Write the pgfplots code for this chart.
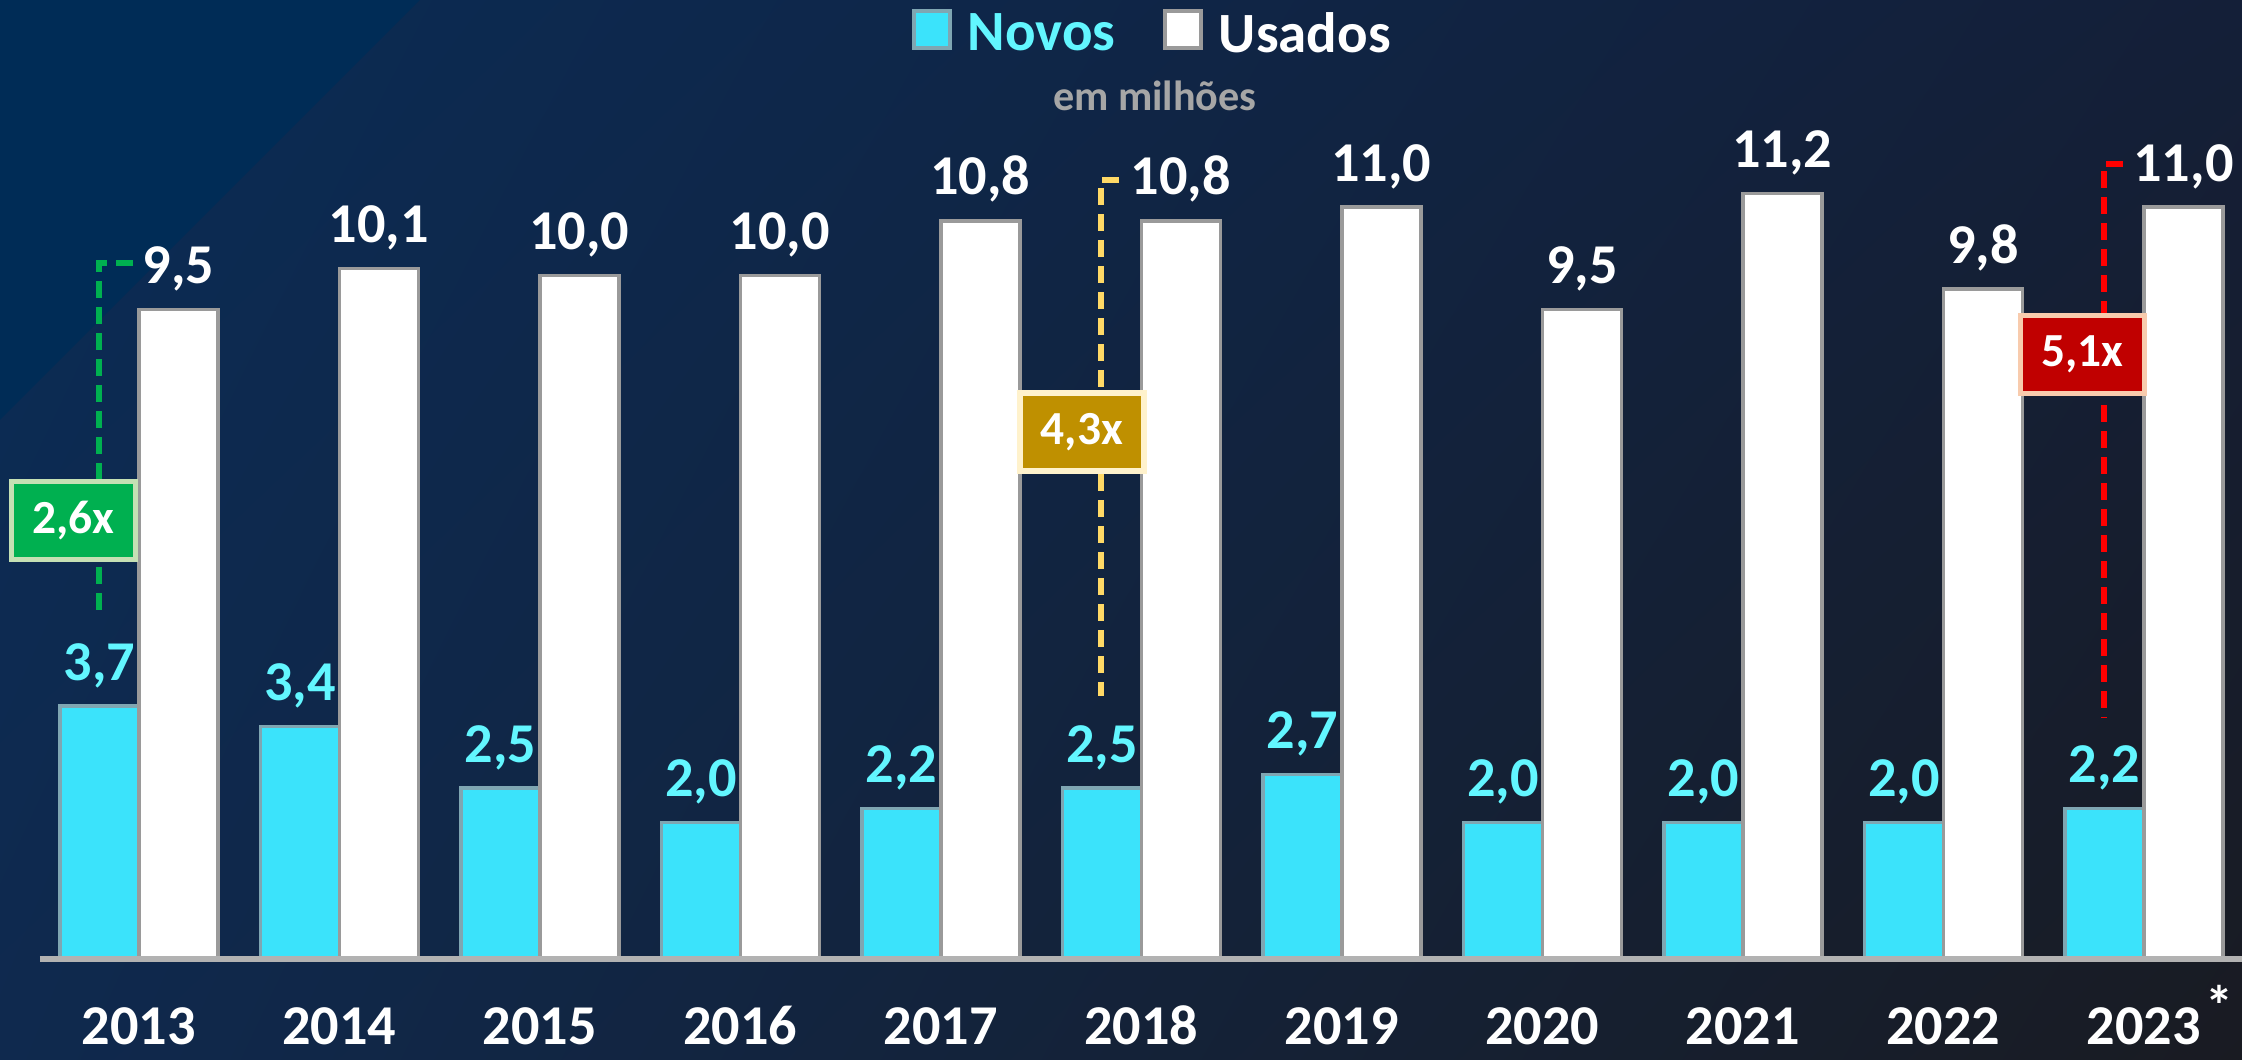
\documentclass[border=0pt]{standalone}
\usepackage{pgfplots}
\pgfplotsset{compat=1.18}
\usetikzlibrary{shadings}
\usepackage{fontspec}
\setmainfont{Carlito}

\definecolor{bgUL}{HTML}{0A2C56}
\definecolor{bgUR}{HTML}{141F38}
\definecolor{bgLL}{HTML}{0F294E}
\definecolor{bgLR}{HTML}{191B22}
\definecolor{bgTri}{HTML}{002C56}
\definecolor{novo}{HTML}{3BE3FB}
\definecolor{novoedge}{HTML}{7FA6B2}
\definecolor{novotxt}{HTML}{62F6FF}
\definecolor{usadoedge}{HTML}{9A9A9A}
\definecolor{gline}{HTML}{00B050}
\definecolor{gborder}{HTML}{C5E0B4}
\definecolor{yline}{HTML}{FFD966}
\definecolor{yfill}{HTML}{BF9000}
\definecolor{yborder}{HTML}{FFF2CC}
\definecolor{rline}{HTML}{FF0000}
\definecolor{rfill}{HTML}{C00000}
\definecolor{rborder}{HTML}{F8CBAD}

\pgfplotsset{
  sqlegend/.style={legend image code/.code={\draw[##1] (0cm,-0.13cm) rectangle (0.36cm,0.24cm);}},
  vallabel/.style={
    nodes near coords={\pgfmathprintnumber[fixed,fixed zerofill,precision=1,use comma,assume math mode=true]{\pgfplotspointmeta}},
    every node near coord/.append style={anchor=base, yshift=0.26cm, text=#1,
        font=\fontsize{16}{16}\selectfont\bfseries}},
}

\begin{document}
\begin{tikzpicture}
% background
\shade[upper left=bgUL, upper right=bgUR, lower left=bgLL, lower right=bgLR]
  (0,0) rectangle (22.42,10.6);
\fill[bgTri] (0,10.6) -- (4.2,10.6) -- (0,6.4) -- cycle;

\begin{axis}[
    name=ax, at={(0,0)}, anchor=south west,
    scale only axis, width=22.42cm, height=10.6cm,
    xmin=-0.693, xmax=10.489, ymin=-1.478, ymax=14.031,
    axis line style={draw=none}, tick style={draw=none},
    major tick length=0pt,
    ytick=\empty,
    xtick={0,...,10},
    xticklabels={2013,2014,2015,2016,2017,2018,2019,2020,2021,2022,{2023\rlap{\hspace{0.08em}\raisebox{0.34em}{*}}}},
    xticklabel style={anchor=base, yshift=0.15cm, text=white,
        font=\fontsize{16}{16}\selectfont\bfseries},
    ybar=0pt, bar width=0.79cm,
    clip=false,
    legend style={at={(axis cs:5.05,13.54)}, anchor=center,
        draw=none, fill=none, legend columns=-1,
        font=\fontsize{16.2}{16.2}\selectfont\bfseries,
        nodes={inner sep=0pt},
        /tikz/every odd column/.append style={column sep=0.16cm},
        /tikz/every even column/.append style={column sep=0.48cm}},
]

\addplot[fill=novo, draw=novoedge, line width=1pt, sqlegend, vallabel=novotxt]
coordinates {
  (0,3.7) (1,3.4) (2,2.5) (3,2.0) (4,2.2) (5,2.5)
  (6,2.7) (7,2.0) (8,2.0) (9,2.0) (10,2.2)
};
\addlegendentry{\textcolor{novotxt}{Novos}}

\addplot[fill=white, draw=usadoedge, line width=1pt, sqlegend, vallabel=white]
coordinates {
  (0,9.5) (1,10.1) (2,10.0) (3,10.0) (4,10.8) (5,10.8)
  (6,11.0) (7,9.5) (8,11.2) (9,9.8) (10,11.0)
};
\addlegendentry{\textcolor{white}{Usados}}

% base line
\draw[color=gray!60!white, line width=1.5pt] (axis cs:-0.494,0) -- (axis cs:10.489,0);

% subtitle
\node[anchor=base, text=gray!70!white, font=\fontsize{12}{12}\selectfont\bfseries]
  at (axis cs:5.067,12.42) {em milhões};

% ratio markers
\tikzset{
  ratio/.style={dash pattern=on 0.17cm off 0.09cm, line width=0.06cm},
  rbox/.style={minimum width=1.24cm, minimum height=0.78cm, inner sep=0pt,
      line width=1.5pt, text=white, font=\fontsize{13.5}{13.5}\selectfont\bfseries},
}
\draw[ratio, gline] (axis cs:-0.03,10.18) -- (axis cs:-0.2,10.18) -- (axis cs:-0.2,4.99);
\node[rbox, fill=gline, draw=gborder] at (axis cs:-0.327,6.42) {2,6x};

\draw[ratio, yline] (axis cs:4.888,11.40) -- (axis cs:4.8,11.40) -- (axis cs:4.8,3.85);
\node[rbox, fill=yfill, draw=yborder] at (axis cs:4.703,7.71) {4,3x};

\draw[ratio, rline] (axis cs:9.895,11.63) -- (axis cs:9.8,11.63) -- (axis cs:9.8,3.53);
\node[rbox, fill=rfill, draw=rborder] at (axis cs:9.693,8.84) {5,1x};
\end{axis}

\pgfresetboundingbox
\path[use as bounding box] (0,0) rectangle (22.42,10.6);
\end{tikzpicture}
\end{document}
